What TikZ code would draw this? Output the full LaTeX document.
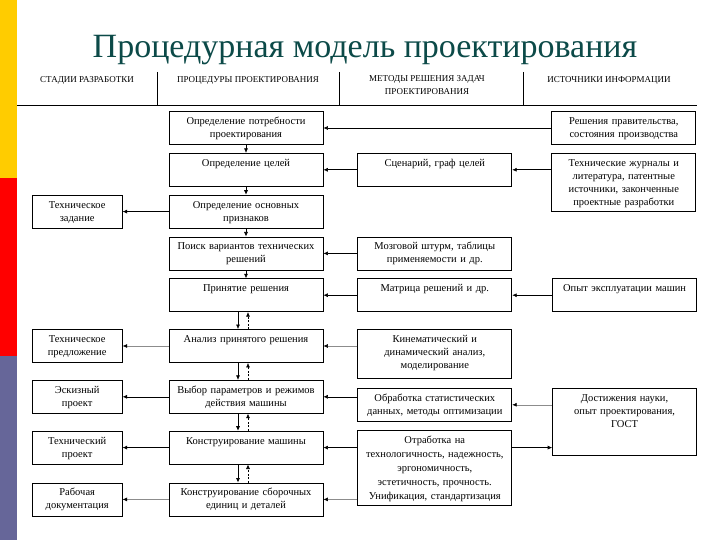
\documentclass[tikz,border=0pt]{standalone}
\usepackage{fontspec}
\setmainfont{Liberation Serif}
\usetikzlibrary{arrows.meta,positioning}
\definecolor{titleteal}{RGB}{12,74,72}
\definecolor{baryellow}{RGB}{255,204,0}
\definecolor{barred}{RGB}{255,0,0}
\definecolor{barslate}{RGB}{102,102,153}

\begin{document}
\begin{tikzpicture}[x=1pt,y=-1pt,>={Latex[length=4.5pt,width=4pt]},
 box/.style={draw,line width=0.8pt,align=center,inner xsep=3pt,inner ysep=4pt,
  text height=9pt,text depth=16pt,font=\fontsize{10.5}{13}\selectfont},
 pbox/.style={box,text width=148pt},
 sbox/.style={box,text width=84pt},
 ibox/.style={box,text width=138pt},
 colhead/.style={align=center,font=\fontsize{9}{13}\selectfont},
 link/.style={->,line width=0.6pt},
 faint/.style={-{Latex[length=4.5pt,width=4pt,color=black]},line width=0.6pt,draw=black!45}]
\useasboundingbox (0,0) rectangle (720,540);
\fill[baryellow] (0,0) rectangle (17,178);
\fill[barred] (0,178) rectangle (17,356);
\fill[barslate] (0,356) rectangle (17,540);
\node[font=\fontsize{34}{40}\selectfont,text=titleteal,anchor=base] (title) at (365,58) {Процедурная модель проектирования};

% column heads
\node[colhead] (h1) at (87,80) {СТАДИИ РАЗРАБОТКИ};
\node[colhead] (h2) at (248,80) {ПРОЦЕДУРЫ ПРОЕКТИРОВАНИЯ};
\node[colhead] (h3) at (427,85) {МЕТОДЫ РЕШЕНИЯ ЗАДАЧ\\ПРОЕКТИРОВАНИЯ};
\node[colhead] (h4) at (609,80) {ИСТОЧНИКИ ИНФОРМАЦИИ};
\draw[line width=0.8pt] (17,105) -- (697,105);
\foreach \x in {157,339,523} \draw[line width=0.8pt] (\x,72) -- (\x,105);

% procedures
\node[pbox] (p1) at (246,128) {Определение потребности\\проектирования};
\node[pbox,below=8pt of p1] (p2) {Определение целей};
\node[pbox,below=8pt of p2] (p3) {Определение основных\\признаков};
\node[pbox,below=8pt of p3] (p4) {Поиск вариантов технических\\решений};
\node[pbox,below=8pt of p4] (p5) {Принятие решения};
\node[pbox,below=17pt of p5] (p6) {Анализ принятого решения};
\node[pbox,below=17pt of p6] (p7) {Выбор параметров и режимов\\действия машины};
\node[pbox,below=17pt of p7] (p8) {Конструирование машины};
\node[pbox,below=18pt of p8] (p9) {Конструирование сборочных\\единиц и деталей};

% stages
\node[sbox,left=46pt of p3] (s1) {Техническое\\задание};
\node[sbox,left=46pt of p6] (s2) {Техническое\\предложение};
\node[sbox,left=46pt of p7] (s3) {Эскизный\\проект};
\node[sbox,left=46pt of p8] (s4) {Технический\\проект};
\node[sbox,left=46pt of p9] (s5) {Рабочая\\документация};

% methods
\node[pbox,right=34pt of p2] (m1) {Сценарий, граф целей};
\node[pbox,right=34pt of p4] (m2) {Мозговой штурм, таблицы\\применяемости и др.};
\node[pbox,right=34pt of p5] (m3) {Матрица решений и др.};
\node[pbox,text depth=32pt,anchor=north west] (m4) at ([xshift=34pt]p6.north east) {Кинематический и\\динамический анализ,\\моделирование};
\node[pbox,below=9pt of m4] (m5) {Обработка статистических\\данных, методы оптимизации};
\node[pbox,below=8pt of m5,text depth=58pt,font=\fontsize{10.5}{14}\selectfont] (m6) {Отработка на\\технологичность, надежность,\\эргономичность,\\эстетичность, прочность.\\Унификация, стандартизация};

% sources
\node[ibox,right=228pt of p1] (i1) {Решения правительства,\\состояния производства};
\node[ibox,below=8pt of i1,text depth=41pt] (i2) {Технические журналы и\\литература, патентные\\источники, законченные\\проектные разработки};
\node[ibox,right=40pt of m3] (i3) {Опыт эксплуатации машин};
\node[ibox,text depth=50pt,anchor=north west] (i4) at ([xshift=40pt]m5.north east) {Достижения науки,\\опыт проектирования,\\ГОСТ};

% procedure chain
\draw[link] (p1)--(p2); \draw[link] (p2)--(p3); \draw[link] (p3)--(p4); \draw[link] (p4)--(p5);
\foreach \a/\b in {p5/p6,p6/p7,p7/p8,p8/p9}{
 \draw[link] ([xshift=-8pt]\a.south) -- ([xshift=-8pt]\b.north);
 \draw[link,dash pattern=on 2pt off 1.5pt] ([xshift=2pt]\b.north) -- ([xshift=2pt]\a.south);}

% to stages
\draw[link] (p3)--(s1); \draw[faint] (p6)--(s2); \draw[link] (p7)--(s3);
\draw[link] (p8)--(s4); \draw[faint] (p9)--(s5);

% from methods and sources
\draw[link] (i1)--(p1);
\draw[link] (i2.west |- m1) -- (m1); \draw[link] (m1)--(p2);
\draw[link] (m2)--(p4);
\draw[link] (i3)--(m3); \draw[link] (m3)--(p5);
\draw[faint] (m4.west |- p6) -- (p6);
\draw[link] (m5.west |- p7) -- (p7);
\draw[faint] (i4.west |- m5) -- (m5);
\draw[link] (m6.east |- p8) -- (i4.west |- p8);
\draw[link] (m6.west |- p8) -- (p8);
\draw[faint] (m6.west |- p9) -- (p9);
\end{tikzpicture}
\end{document}
